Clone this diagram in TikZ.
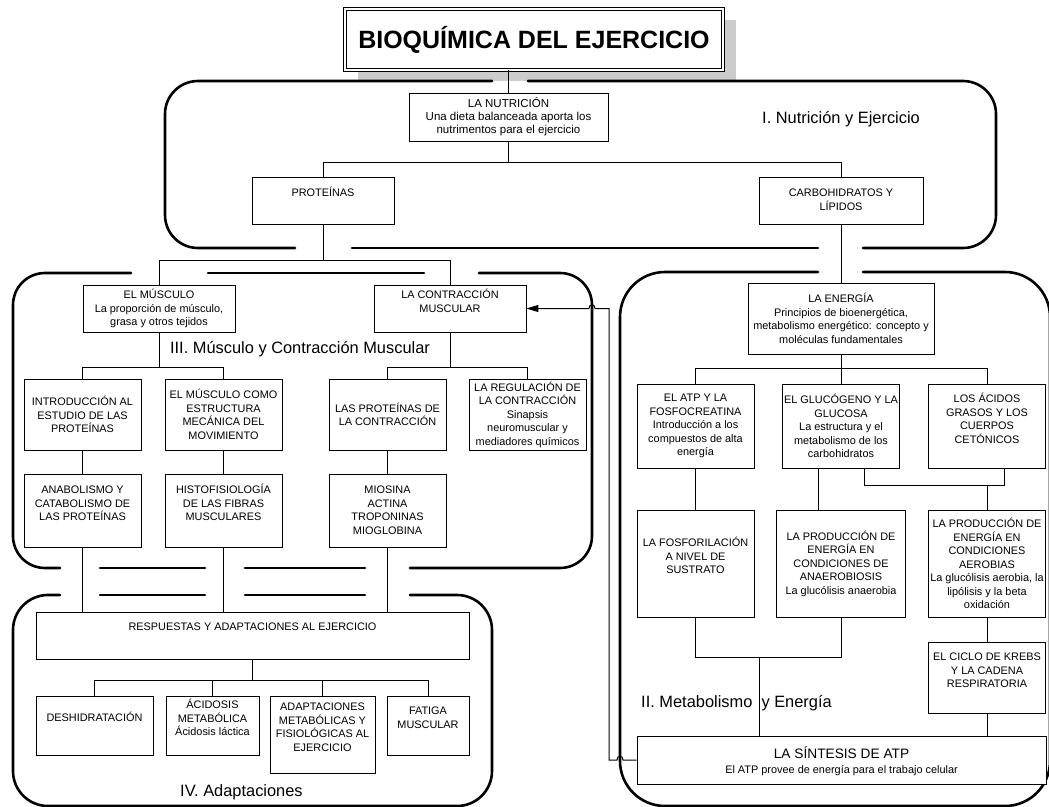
\documentclass[tikz,border=0pt]{standalone}
\usepackage{fontspec}
\setmainfont{Liberation Sans}
\usetikzlibrary{arrows.meta}
\newcommand\bxfont{\fontsize{10.9}{13.5}\selectfont}
\newcommand\secfont{\fontsize{16.4}{19}\selectfont}
\newcommand\tbx[4]{\begin{minipage}[c][#2][t]{#1}\centering\vspace*{#3}\rule{0pt}{10.5pt}#4\par\end{minipage}}
\newcommand\cbx[3]{\begin{minipage}[c][#2][c]{#1}\centering #3\par\end{minipage}}
\tikzset{
  box/.style={draw, line width=0.8pt, fill=white, inner sep=0pt, font=\bxfont},
  sec/.style={line width=2.6pt, line cap=round, rounded corners=33pt},
  conn/.style={line width=0.8pt},
  lab/.style={inner sep=0pt, font=\secfont},
  titlebox/.style={draw, double, double distance=1.8pt, line width=0.9pt, fill=white,
    minimum width=378pt, minimum height=61pt, inner sep=0pt,
    font=\fontsize{25}{30}\selectfont\bfseries}
}
\begin{document}
\begin{tikzpicture}[x=1pt,y=-1pt]
\clip (0,0) rectangle (1049,806);
\fill[white] (0,0) rectangle (1049,806);

% title shadow
\fill[gray!40] (358,20) rectangle (736,81);

% Section I
\draw[sec] (295,248) -- (165,248) -- (165,81) -- (492,81);
\draw[sec] (528,81) -- (996,81) -- (996,248) -- (863,248);
\draw[sec] (818,248) -- (352,248);
% Section II
\draw[sec, rounded corners=45pt] (818,272) -- (620,272) -- (620,806) -- (1050,806) -- (1050,272) -- (863,272);
% Section III
\draw[sec, rounded corners=32pt] (131,273) -- (13,273) -- (13,568) -- (60,568);
\draw[sec] (100,568) -- (205,568);
\draw[sec] (245,568) -- (365,568);
\draw[sec, rounded corners=32pt] (410,568) -- (592,568) -- (592,273) -- (479,273);
\draw[sec] (208,273) -- (424,273);
% Section IV
\draw[sec, rounded corners=35pt] (60,595) -- (13,595) -- (13,806) -- (492,806) -- (492,595) -- (410,595);
\draw[sec] (100,595) -- (205,595);
\draw[sec] (245,595) -- (365,595);

% Title
\node[titlebox] (title) at (534,39.5) {BIOQUÍMICA DEL EJERCICIO};

% Boxes section I
\node[box] (nut) at (508.5,117) {\cbx{199pt}{48pt}{\fontsize{11.5}{13}\selectfont LA NUTRICIÓN\\Una dieta balanceada aporta los\\nutrimentos para el ejercicio}};
\node[box] (prot) at (323,200.5) {\tbx{142pt}{47pt}{9.4pt}{PROTEÍNAS}};
\node[box] (carb) at (841,200.5) {\tbx{164pt}{47pt}{9.4pt}{CARBOHIDRATOS Y\\LÍPIDOS}};

% Section III
\node[box] (musc) at (159,308.5) {\cbx{152pt}{47pt}{EL MÚSCULO\\La proporción de músculo,\\grasa y otros tejidos}};
\node[box] (contr) at (450,308.5) {\tbx{152pt}{47pt}{3.4pt}{LA CONTRACCIÓN\\MUSCULAR}};
\node[box] (intro) at (82.5,414.5) {\cbx{117pt}{71pt}{INTRODUCCIÓN AL\\ESTUDIO DE LAS\\PROTEÍNAS}};
\node[box] (estr) at (223.5,414.5) {\cbx{117pt}{71pt}{EL MÚSCULO COMO\\ESTRUCTURA\\MECÁNICA DEL\\MOVIMIENTO}};
\node[box] (protc) at (387.5,414.5) {\cbx{117pt}{71pt}{LAS PROTEÍNAS DE\\LA CONTRACCIÓN}};
\node[box] (reg) at (527.5,414.5) {\cbx{117pt}{71pt}{LA REGULACIÓN DE\\LA CONTRACCIÓN\\Sinapsis\\neuromuscular y\\mediadores químicos}};
\node[box] (anab) at (82.5,510.5) {\tbx{117pt}{73pt}{9.4pt}{ANABOLISMO Y\\CATABOLISMO DE\\LAS PROTEÍNAS}};
\node[box] (hist) at (223.5,510.5) {\tbx{117pt}{73pt}{9.4pt}{HISTOFISIOLOGÍA\\DE LAS FIBRAS\\MUSCULARES}};
\node[box] (mios) at (387.5,510.5) {\tbx{117pt}{73pt}{9.4pt}{MIOSINA\\ACTINA\\TROPONINAS\\MIOGLOBINA}};

% Section IV
\node[box] (resp) at (252.5,635.5) {\tbx{433pt}{47pt}{8.4pt}{RESPUESTAS Y ADAPTACIONES AL EJERCICIO}};
\node[box] (desh) at (94.5,725.5) {\tbx{117pt}{59pt}{15.4pt}{DESHIDRATACIÓN}};
\node[box] (acid) at (212.5,725.5) {\tbx{93pt}{59pt}{2.4pt}{ÁCIDOSIS\\METABÓLICA\\Ácidosis láctica}};
\node[box] (adap) at (322.5,734.5) {\tbx{105pt}{77pt}{4.4pt}{ADAPTACIONES\\METABÓLICAS Y\\FISIOLÓGICAS AL\\EJERCICIO}};
\node[box] (fat) at (428,725.5) {\tbx{82pt}{59pt}{8.4pt}{FATIGA\\MUSCULAR}};

% Section II
\node[box] (energy) at (841,318.5) {\cbx{186pt}{71pt}{LA ENERGÍA\\Principios de bioenergética,\\metabolismo energético: concepto y\\moléculas fundamentales}};
\node[box] (atpf) at (695.5,426) {\cbx{117pt}{84pt}{EL ATP Y LA\\FOSFOCREATINA\\Introducción a los\\compuestos de alta\\energía}};
\node[box] (gluc) at (841,426) {\cbx{117pt}{84pt}{EL GLUCÓGENO Y LA\\GLUCOSA\\La estructura y el\\metabolismo de los\\carbohidratos}};
\node[box] (acid2) at (987,426) {\tbx{117pt}{84pt}{8.4pt}{LOS ÁCIDOS\\GRASOS Y LOS\\CUERPOS\\CETÓNICOS}};
\node[box] (fosf) at (695.5,563.5) {\tbx{117pt}{107pt}{26.4pt}{LA FOSFORILACIÓN\\A NIVEL DE\\SUSTRATO}};
\node[box] (anaer) at (841,563.5) {\cbx{129pt}{107pt}{LA PRODUCCIÓN DE\\ENERGÍA EN\\CONDICIONES DE\\ANAEROBIOSIS\\La glucólisis anaerobia}};
\node[box] (aerob) at (987,563.5) {\cbx{117pt}{107pt}{LA PRODUCCIÓN DE\\ENERGÍA EN\\CONDICIONES\\AEROBIAS\\La glucólisis aerobia, la\\lipólisis y la beta\\oxidación}};
\node[box] (krebs) at (987,677.5) {\tbx{117pt}{71pt}{8.4pt}{EL CICLO DE KREBS\\Y LA CADENA\\RESPIRATORIA}};
\node[box] (sint) at (841.5,760) {\begin{minipage}[c][48pt][t]{409pt}\centering\rule{0pt}{22pt}{\fontsize{13.7}{16}\selectfont LA SÍNTESIS DE ATP}\par\vspace{1.5pt}El ATP provee de energía para el trabajo celular\par\end{minipage}};

% Section labels
\node[lab, anchor=base west] (l1) at (762,123) {I. Nutrición y Ejercicio};
\node[lab, anchor=base] (l3) at (300,353) {III. Músculo y Contracción Muscular};
\node[lab, anchor=base west] (l2) at (641,707) {II. Metabolismo\ \ y Energía};
\node[lab, anchor=base west] (l4) at (180,796) {IV. Adaptaciones};

% Connectors
\draw[conn] (title.south -| nut.north) -- (nut.north);
\draw[conn] (nut.south) -- (nut.south |- 0,162);
\draw[conn] (prot.north) -- (prot.north |- 0,162) -- (carb.north |- 0,162) -- (carb.north);
\draw[conn] (prot.south) -- (prot.south |- 0,260);
\draw[conn] (musc.north) -- (musc.north |- 0,260) -- (contr.north |- 0,260) -- (contr.north);
\draw[conn] (carb.south) -- (energy.north);
\draw[conn] (musc.south) -- (musc.south |- 0,367);
\draw[conn] (intro.north) -- (intro.north |- 0,367) -- (estr.north |- 0,367) -- (estr.north);
\draw[conn] (contr.south) -- (contr.south |- 0,367);
\draw[conn] (protc.north) -- (protc.north |- 0,367) -- (reg.north |- 0,367) -- (reg.north);
\draw[conn] (intro.south) -- (anab.north);
\draw[conn] (estr.south) -- (hist.north);
\draw[conn] (protc.south) -- (mios.north);
\draw[conn] (anab.south) -- (anab.south |- resp.north);
\draw[conn] (hist.south) -- (hist.south |- resp.north);
\draw[conn] (mios.south) -- (mios.south |- resp.north);
\draw[conn] (resp.south) -- (resp.south |- 0,680);
\draw[conn] (desh.north) -- (desh.north |- 0,680) -- (fat.north |- 0,680) -- (fat.north);
\draw[conn] (acid.north) -- (acid.north |- 0,680);
\draw[conn] (adap.north) -- (adap.north |- 0,680);
\draw[conn] (energy.south) -- (energy.south |- 0,368);
\draw[conn] (atpf.north) -- (atpf.north |- 0,368) -- (acid2.north |- 0,368) -- (acid2.north);
\draw[conn] (gluc.north) -- (gluc.north |- 0,368);
\draw[conn] (atpf.south) -- (fosf.north);
\draw[conn] ([xshift=-23pt]gluc.south) -- ([xshift=-23pt]gluc.south |- anaer.north);
\draw[conn] ([xshift=23pt]gluc.south) -- ([xshift=23pt]gluc.south |- 0,485) -- ([xshift=17pt]acid2.south |- 0,485) -- ([xshift=17pt]acid2.south);
\draw[conn] (aerob.north) -- (aerob.north |- 0,485);
\draw[conn] (aerob.south) -- (krebs.north);
\draw[conn] (fosf.south) -- (fosf.south |- 0,657) -- (anaer.south |- 0,657) -- (anaer.south);
\coordinate (j1) at (759,657);
\draw[conn] (j1) -- (j1 |- sint.north);
\draw[conn] (krebs.south) -- (krebs.south |- sint.north);

% feedback arrow with line hops
\draw[conn, line width=1pt, -{Triangle[length=12pt,width=7pt]}] (sint.west) -- (623,760)
  .. controls (623,755) and (617,755) .. (617,760) -- (609,760) -- (609,308.5) -- (595,308.5)
  .. controls (595,303.5) and (589,303.5) .. (589,308.5) -- (contr.east);
\end{tikzpicture}
\end{document}
